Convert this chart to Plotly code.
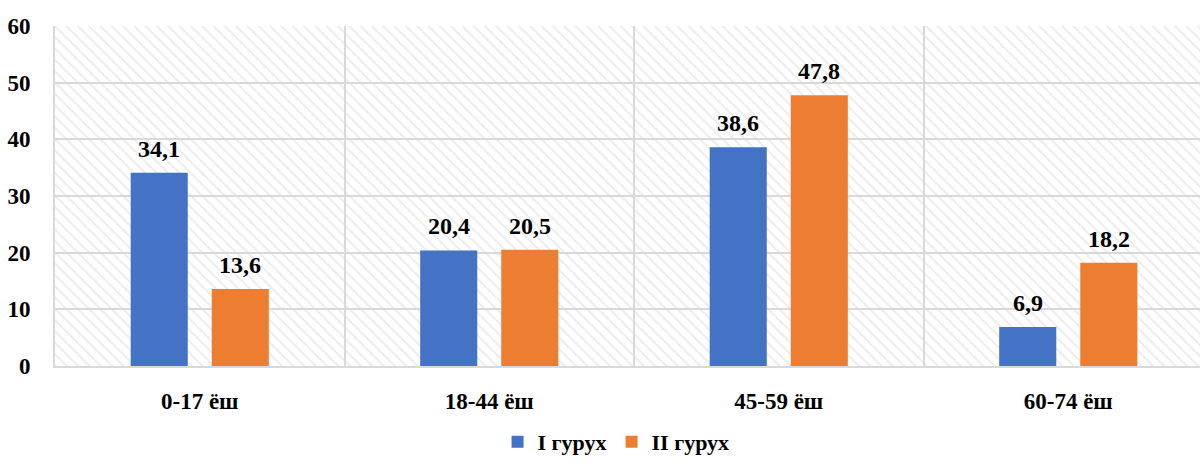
import plotly.graph_objects as go

# Age groups and group shares (%)
categories = ["0-17 ёш", "18-44 ёш", "45-59 ёш", "60-74 ёш"]
group_1 = [34.1, 20.4, 38.6, 6.9]
group_2 = [13.6, 20.5, 47.8, 18.2]
series_names = ["I гурух", "II гурух"]
y_ticks = [0, 10, 20, 30, 40, 50, 60]

BLUE = "#4472C4"
ORANGE = "#ED7D31"
GRID = "#d9d9d9"
FONT = "Times New Roman, Liberation Serif, DejaVu Serif, serif"
BAR_SHIFT = 40.5  # px between group centre and each bar centre


def fmt(v):
    return f"{v:.1f}".replace(".", ",")


fig = go.Figure()

# Hatched plot background on the base axes (drawn underneath the bars)
fig.add_trace(go.Bar(
    x=[0.5], y=[y_ticks[-1]], width=[1], base=0,
    xaxis="x", yaxis="y",
    marker=dict(color="rgba(0,0,0,0)", line_width=0,
                pattern=dict(shape="\\", fgcolor=GRID, bgcolor="rgba(0,0,0,0)",
                             size=8, solidity=0.25)),
    showlegend=False, hoverinfo="skip",
))

# Data bars on the overlaying category axis
for name, vals, col in [(series_names[0], group_1, BLUE), (series_names[1], group_2, ORANGE)]:
    fig.add_trace(go.Bar(
        x=categories, y=vals, name=f"<b>{name}</b>", xaxis="x2", yaxis="y",
        marker=dict(color=col, line_width=0),
        hoverinfo="x+y",
    ))

# Value labels above the bars
annotations = []
for vals, shift in [(group_1, -BAR_SHIFT), (group_2, BAR_SHIFT)]:
    for cat, v in zip(categories, vals):
        annotations.append(dict(
            x=cat, y=v, xref="x2", yref="y", text=f"<b>{fmt(v)}</b>", showarrow=False,
            xanchor="center", yanchor="bottom", xshift=shift, yshift=9,
            font=dict(family=FONT, size=24, color="black"),
        ))

fig.update_layout(
    width=1200, height=463,
    margin=dict(l=55, r=0, t=26, b=94),
    paper_bgcolor="white", plot_bgcolor="white",
    barmode="group", bargap=0.44, bargroupgap=0.296,
    font=dict(family=FONT, size=22, color="black"),
    showlegend=True,
    annotations=annotations,
    legend=dict(orientation="h", x=0.49, xanchor="center", y=-0.225, yanchor="middle",
                font=dict(family=FONT, size=22, color="black"),
                itemwidth=30, tracegroupgap=0, traceorder="normal"),
    xaxis=dict(range=[0, 1], visible=False, fixedrange=True),
    xaxis2=dict(
        overlaying="x", type="category", range=[-0.5, 3.455], tickson="boundaries",
        showgrid=True, gridcolor=GRID, gridwidth=2,
        showline=True, linecolor=GRID, linewidth=2,
        ticks="", ticklabelstandoff=13, side="bottom",
        tickvals=categories, ticktext=[f"<b>{c}</b>" for c in categories],
        tickfont=dict(family=FONT, size=23, color="black"),
    ),
    yaxis=dict(
        range=[0, 60], tickvals=y_ticks, ticktext=[f"<b>{t}</b>" for t in y_ticks],
        showgrid=True, gridcolor=GRID, gridwidth=2,
        showline=True, linecolor=GRID, linewidth=2,
        ticks="", ticklabelstandoff=18, zeroline=False,
        tickfont=dict(family=FONT, size=23, color="black"),
    ),
)

fig.write_html("out.html")
